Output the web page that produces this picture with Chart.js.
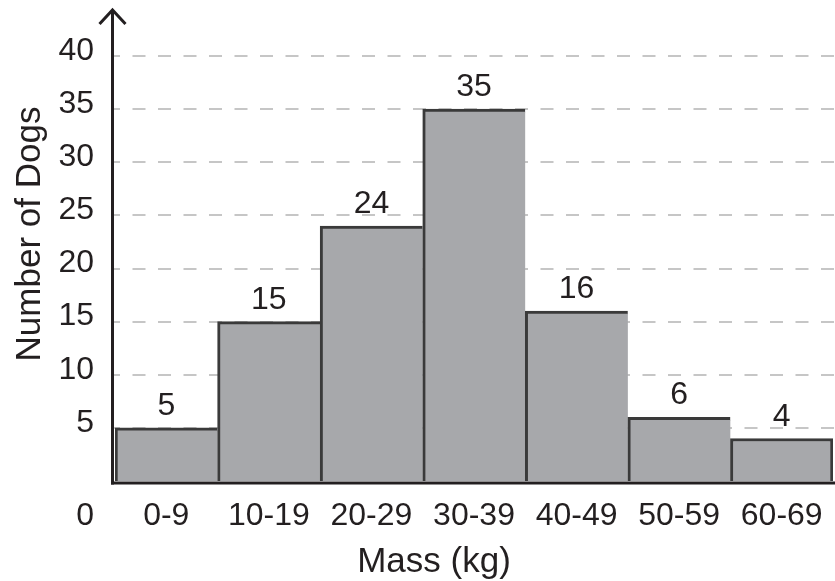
<!DOCTYPE html>
<html>
<head>
<meta charset="utf-8">
<script src="https://cdn.jsdelivr.net/npm/chart.js@4/dist/chart.umd.min.js"></script>
<style>
  html, body { margin: 0; padding: 0; background: #ffffff; }
  #wrap { width: 835px; height: 581px; }
</style>
</head>
<body>
<div id="wrap"><canvas id="chart" width="835" height="581"></canvas></div>
<script>
// Mass classes (kg) and the number of dogs in each
const massClasses = ['0-9', '10-19', '20-29', '30-39', '40-49', '50-59', '60-69'];
const dogCounts = [5, 15, 24, 35, 16, 6, 4];
const yTicks = [0, 5, 10, 15, 20, 25, 30, 35, 40];
const xTitle = 'Mass (kg)';
const yTitle = 'Number of Dogs';

const FONT = '"Liberation Sans", Arial, Helvetica, sans-serif';
const INK = '#231f20';

// Dashed horizontal guides behind the bars, plus the arrowed axes and labels on top
const histogramDecor = {
  id: 'histogramDecor',
  beforeDatasetsDraw(chart) {
    const { ctx, chartArea, scales } = chart;
    const y = scales.y;
    ctx.save();
    ctx.strokeStyle = '#c6c6c6';
    ctx.lineWidth = 2;
    ctx.setLineDash([13, 12.5]);
    ctx.lineDashOffset = 6;
    yTicks.forEach(v => {
      if (v === 0) return;
      const py = Math.round(y.getPixelForValue(v));
      ctx.beginPath();
      ctx.moveTo(chartArea.left - 2, py);
      ctx.lineTo(chart.width, py);
      ctx.stroke();
    });
    ctx.restore();
  },
  afterDraw(chart) {
    const { ctx, chartArea, scales } = chart;
    const y = scales.y;
    const axisX = chartArea.left - 2.5;
    const baseY = y.getPixelForValue(0) + 2;
    ctx.save();
    ctx.strokeStyle = INK;
    ctx.lineWidth = 3;
    ctx.setLineDash([]);
    ctx.lineCap = 'butt';
    // horizontal axis
    ctx.beginPath();
    ctx.moveTo(axisX - 1.5, baseY);
    ctx.lineTo(chart.width, baseY);
    ctx.stroke();
    // vertical axis with arrow head
    ctx.beginPath();
    ctx.moveTo(axisX, baseY + 1.5);
    ctx.lineTo(axisX, 10);
    ctx.stroke();
    ctx.lineJoin = 'miter';
    ctx.beginPath();
    ctx.moveTo(axisX - 13, 24);
    ctx.lineTo(axisX, 10);
    ctx.lineTo(axisX + 13, 24);
    ctx.stroke();

    ctx.fillStyle = INK;
    // value above each bar
    ctx.font = '32px ' + FONT;
    ctx.textAlign = 'center';
    ctx.textBaseline = 'alphabetic';
    const meta = chart.getDatasetMeta(0);
    meta.data.forEach((bar, i) => {
      ctx.fillText(String(dogCounts[i]), bar.x, bar.y - 13);
    });

    // zero label sits on the category label row
    ctx.textAlign = 'right';
    ctx.fillText('0', chartArea.left - 21, 525);

    // axis titles
    ctx.font = '35px ' + FONT;
    ctx.textAlign = 'center';
    ctx.fillText(xTitle, 434, 572);
    ctx.translate(40, 234);
    ctx.rotate(-Math.PI / 2);
    ctx.fillText(yTitle, 0, 0);
    ctx.restore();
  }
};

new Chart(document.getElementById('chart'), {
  type: 'bar',
  data: {
    labels: massClasses,
    datasets: [{
      data: dogCounts,
      backgroundColor: '#a7a8ab',
      borderColor: '#3a3a3a',
      borderWidth: (c) => ({ top: 3, left: 3, right: c.dataIndex === dogCounts.length - 1 ? 3 : 0, bottom: 0 }),
      borderSkipped: false,
      categoryPercentage: 1,
      barPercentage: 1
    }]
  },
  options: {
    responsive: false,
    animation: false,
    devicePixelRatio: 1,
    layout: { padding: { top: 56, right: 2, left: 0, bottom: 0 } },
    plugins: { legend: { display: false }, tooltip: { enabled: false } },
    scales: {
      x: {
        grid: { display: false, drawTicks: false },
        border: { display: false },
        ticks: {
          color: INK,
          font: { family: FONT, size: 32 },
          padding: 16,
          maxRotation: 0,
          autoSkip: false
        },
        afterFit(s) {
          s.height = 100;
          s.paddingLeft = 0;
          s.paddingRight = 0;
        }
      },
      y: {
        min: 0,
        max: 40,
        grid: { display: false, drawTicks: false },
        border: { display: false },
        afterBuildTicks(s) { s.ticks = yTicks.map(v => ({ value: v })); },
        ticks: {
          color: INK,
          font: { family: FONT, size: 32 },
          padding: 21,
          labelOffset: -5,
          callback: (v) => (v === 0 ? '' : String(v))
        },
        afterFit(s) {
          s.width = 115;
          s.paddingTop = 0;
          s.paddingBottom = 0;
        }
      }
    }
  },
  plugins: [histogramDecor]
});
</script>
</body>
</html>
